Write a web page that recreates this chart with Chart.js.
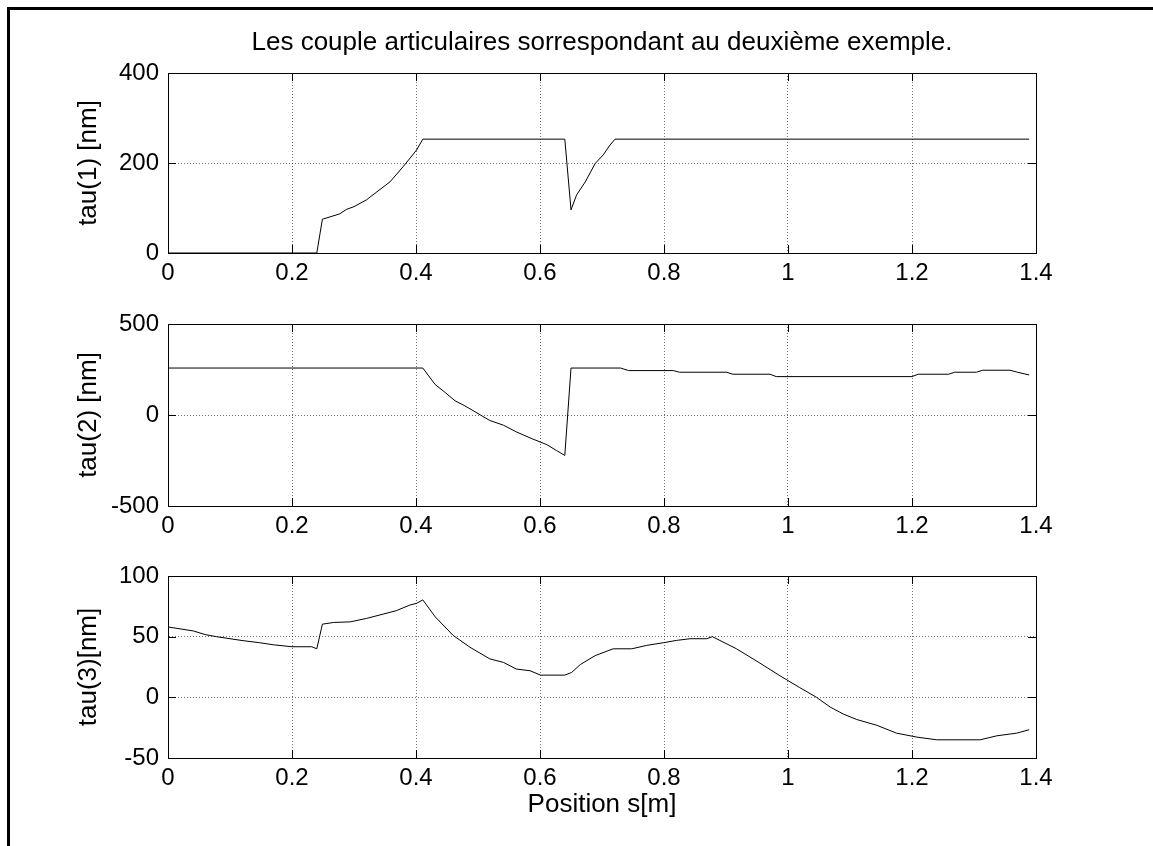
<!DOCTYPE html>
<html>
<head>
<meta charset="utf-8">
<title>Couples articulaires</title>
<script src="https://cdn.jsdelivr.net/npm/chart.js@4.4.0/dist/chart.umd.min.js"></script>
<style>
    html, body { margin: 0; padding: 0; background: #fff; }
    #page { position: relative; width: 1153px; height: 846px; overflow: hidden; }
    .frame { position: absolute; left: 7px; top: 7px; right: -10px; bottom: -10px;
             border-top: 3px solid #000; border-left: 3px solid #000; }
    canvas { position: absolute; left: 0; }
</style>
</head>
<body>
<div id="page">
    <div class="frame"></div>
    <canvas id="tau1Chart" width="1153" height="290" style="top:0px"></canvas>
    <canvas id="tau2Chart" width="1153" height="262" style="top:290px"></canvas>
    <canvas id="tau3Chart" width="1153" height="294" style="top:552px"></canvas>
</div>
<script>
// Joint torques along the path, one list of positions per curve
const s1 = [0, 0.24, 0.249, 0.277, 0.288, 0.30, 0.32, 0.337, 0.358, 0.38, 0.401, 0.411,
            0.640, 0.65, 0.659, 0.673, 0.689, 0.702, 0.713, 0.721, 1.389];
const tau1 = [0, 0, 75, 87, 97, 103, 118, 136, 158, 193, 229, 253,
              253, 96, 129, 158, 199, 218, 240, 253, 253];

const s2 = [0, 0.411, 0.431, 0.447, 0.463, 0.479, 0.495, 0.519, 0.541, 0.562, 0.584, 0.611,
            0.627, 0.640, 0.65, 0.730, 0.743, 0.815, 0.825, 0.901, 0.911, 0.971, 0.981,
            1.200, 1.210, 1.259, 1.269, 1.304, 1.314, 1.358, 1.370, 1.389];
const tau2 = [258, 258, 167, 124, 78, 50, 18, -30, -56, -93, -126, -163,
              -196, -222, 258, 258, 244, 244, 235, 235, 224, 224, 211,
              211, 224, 224, 235, 235, 246, 246, 235, 220];

const s3 = [0, 0.041, 0.06, 0.078, 0.1, 0.121, 0.148, 0.17, 0.2, 0.232, 0.24, 0.249,
            0.267, 0.294, 0.32, 0.347, 0.368, 0.39, 0.401, 0.411, 0.431, 0.46, 0.487,
            0.519, 0.541, 0.562, 0.584, 0.601, 0.640, 0.651, 0.665, 0.689, 0.718, 0.748,
            0.772, 0.799, 0.82, 0.842, 0.869, 0.878, 0.917, 0.95, 0.987, 1.019, 1.046,
            1.068, 1.089, 1.111, 1.143, 1.175, 1.208, 1.24, 1.31, 1.337, 1.369, 1.389];
const tau3 = [58, 54.7, 51.7, 50, 48.3, 46.7, 45, 43.3, 41.7, 41.7, 40, 60.3,
              61.7, 62.2, 65, 68.6, 71.4, 76, 77.5, 80.3, 66.3, 51, 41.3,
              31.7, 28.8, 23.3, 21.9, 18.3, 18.3, 20.5, 27, 34.4, 40, 40,
              42.8, 45, 46.9, 48.3, 48.3, 50, 40, 29.7, 17.8, 8, 0,
              -8, -13.7, -18.3, -23, -29.5, -32.8, -35, -35, -31.7, -29.5, -26.7];

// Axis limits and tick steps
const xLimits = [0, 1.4];
const xStep = 0.2;
const yLimits1 = [0, 400], yStep1 = 200;
const yLimits2 = [-500, 500], yStep2 = 500;
const yLimits3 = [-50, 100], yStep3 = 50;

const titleText = 'Les couple articulaires sorrespondant au deuxième exemple.';
const yLabels = ['tau(1) [nm]', 'tau(2) [nm]', 'tau(3)[nm]'];
const xLabel = 'Position s[m]';

const FONT = '"Liberation Sans", Arial, sans-serif';
Chart.defaults.font.family = FONT;
Chart.defaults.color = '#000';

const PLOT_LEFT = 168;
const PLOT_RIGHT = 1036;
const TICK_IN = 8;

// Closed box with inward tick marks on all four sides
const boxTicks = {
    id: 'boxTicks',
    afterDraw(chart) {
        const { ctx, chartArea: a, scales } = chart;
        ctx.save();
        ctx.strokeStyle = '#000';
        ctx.lineWidth = 1;
        ctx.beginPath();
        scales.x.ticks.forEach(t => {
            const px = Math.round(scales.x.getPixelForValue(t.value)) + 0.5;
            ctx.moveTo(px, a.top); ctx.lineTo(px, a.top + TICK_IN);
            ctx.moveTo(px, a.bottom); ctx.lineTo(px, a.bottom - TICK_IN);
        });
        scales.y.ticks.forEach(t => {
            const py = Math.round(scales.y.getPixelForValue(t.value)) + 0.5;
            ctx.moveTo(a.left, py); ctx.lineTo(a.left + TICK_IN, py);
            ctx.moveTo(a.right, py); ctx.lineTo(a.right - TICK_IN, py);
        });
        ctx.stroke();
        ctx.strokeRect(Math.round(a.left) + 0.5, Math.round(a.top) + 0.5,
                       Math.round(a.right - a.left), Math.round(a.bottom - a.top));
        ctx.restore();
    }
};

// Figure title, centred over the plot area rather than the whole canvas
const panelTitle = {
    id: 'panelTitle',
    afterDraw(chart, args, opts) {
        if (!opts.text) return;
        const { ctx, chartArea: a } = chart;
        ctx.save();
        ctx.fillStyle = '#000';
        ctx.font = `${opts.size}px ${FONT}`;
        ctx.textAlign = 'center';
        ctx.textBaseline = 'middle';
        ctx.fillText(opts.text, (a.left + a.right) / 2, opts.y);
        ctx.restore();
    }
};

function toPoints(xs, ys) {
    return xs.map((x, i) => ({ x: x, y: ys[i] }));
}

function makePanel(id, xs, ys, opts) {
    const canvas = document.getElementById(id);
    const ctx = canvas.getContext('2d');
    const canvasH = canvas.height;
    const grid = {
        color: 'rgba(0, 0, 0, 0.55)',
        lineWidth: 1,
        drawTicks: false
    };
    const border = { display: true, color: '#000', width: 1, dash: [1, 2] };

    return new Chart(ctx, {
        type: 'line',
        data: {
            datasets: [{
                data: toPoints(xs, ys),
                borderColor: '#000',
                borderWidth: 1,
                pointRadius: 0,
                tension: 0,
                fill: false
            }]
        },
        options: {
            responsive: false,
            animation: false,
            layout: {
                padding: { left: 0, right: 1153 - PLOT_RIGHT, top: opts.padTop, bottom: 0 }
            },
            plugins: {
                legend: { display: false },
                tooltip: { enabled: false },
                title: { display: false },
                panelTitle: { text: opts.title || '', size: 26, y: 43 }
            },
            scales: {
                x: {
                    type: 'linear',
                    min: xLimits[0],
                    max: xLimits[1],
                    grid: grid,
                    border: border,
                    ticks: {
                        stepSize: xStep,
                        padding: 6,
                        font: { size: 24 },
                        maxRotation: 0,
                        callback: v => String(Number(v.toFixed(1)))
                    },
                    title: opts.xTitle ? {
                        display: true,
                        text: opts.xTitle,
                        font: { size: 26 },
                        padding: { top: 0, bottom: 26 }
                    } : { display: false },
                    afterFit: scale => { scale.height = canvasH - opts.plotBottom; }
                },
                y: {
                    min: opts.yLimits[0],
                    max: opts.yLimits[1],
                    grid: grid,
                    border: border,
                    ticks: {
                        stepSize: opts.yStep,
                        padding: 9,
                        font: { size: 24 }
                    },
                    title: {
                        display: true,
                        text: opts.yTitle,
                        font: { size: 26 },
                        padding: { top: 73, bottom: 0 }
                    },
                    afterFit: scale => { scale.width = PLOT_LEFT; }
                }
            }
        },
        plugins: [boxTicks, panelTitle]
    });
}

document.addEventListener('DOMContentLoaded', () => {
    // top panel carries the figure title, bottom panel the shared x label
    makePanel('tau1Chart', s1, tau1, {
        yLimits: yLimits1, yStep: yStep1, yTitle: yLabels[0],
        title: titleText, padTop: 73, plotBottom: 253
    });
    makePanel('tau2Chart', s2, tau2, {
        yLimits: yLimits2, yStep: yStep2, yTitle: yLabels[1],
        padTop: 34, plotBottom: 216
    });
    makePanel('tau3Chart', s3, tau3, {
        yLimits: yLimits3, yStep: yStep3, yTitle: yLabels[2],
        xTitle: xLabel, padTop: 24, plotBottom: 206
    });
});
</script>
</body>
</html>
